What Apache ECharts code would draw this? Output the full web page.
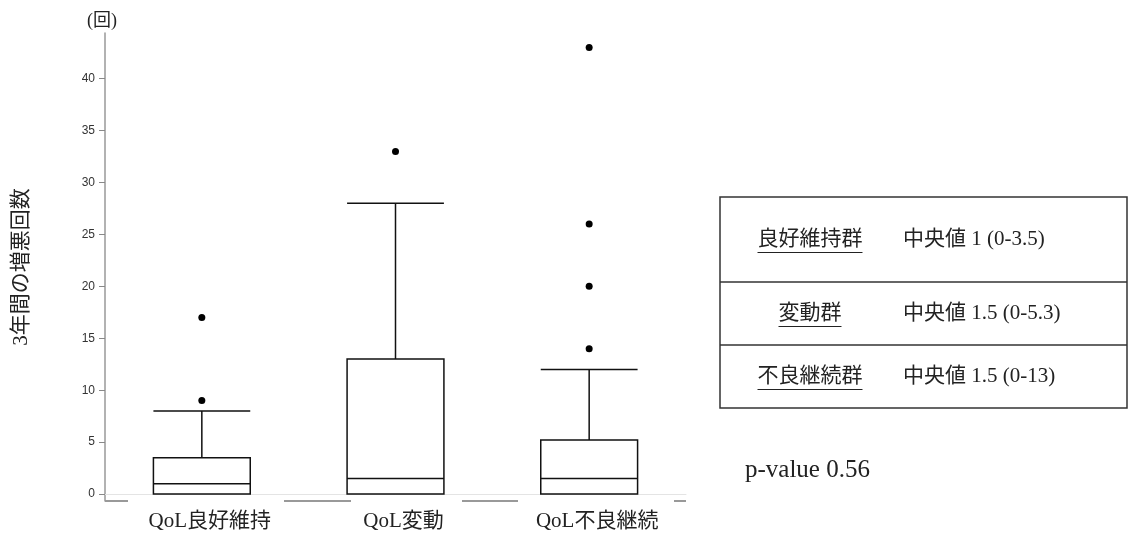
<!DOCTYPE html>
<html>
<head>
<meta charset="utf-8">
<script src="https://cdn.jsdelivr.net/npm/echarts@6/dist/echarts.min.js"></script>
<style>
  html, body { margin: 0; padding: 0; background: #fff; }
  #chart { width: 1128px; height: 534px; }
</style>
</head>
<body>
<div id="chart"></div>
<script>
// Data
var categories = ['QoL良好維持', 'QoL変動', 'QoL不良継続'];
// [min, Q1, median, Q3, upper whisker]
var boxValues = [
    [0, 0, 1, 3.5, 8],
    [0, 0, 1.5, 13, 28],
    [0, 0, 1.5, 5.2, 12]
];
// outliers: [category index, value]
var outliers = [
    [0, 9], [0, 17],
    [1, 33],
    [2, 14], [2, 20], [2, 26], [2, 43]
];
var yTicks = [0, 5, 10, 15, 20, 25, 30, 35, 40];
var tableGroups = ['良好維持群', '変動群', '不良継続群'];
var tableMedians = ['中央値 1 (0-3.5)', '中央値 1.5 (0-5.3)', '中央値 1.5 (0-13)'];
var pValueText = 'p-value 0.56';

var serif = '"Liberation Serif", "Noto Sans CJK JP", serif';
var sans = '"Liberation Sans", Arial, sans-serif';

var chart = echarts.init(document.getElementById('chart'));

// measure text for underline
var measureCtx = document.createElement('canvas').getContext('2d');
function textWidth(str, size) {
    measureCtx.font = size + 'px ' + serif;
    return measureCtx.measureText(str).width;
}

//
// Table (graphic)
//
var tableLeft = 720, tableRight = 1127;
var rowEdges = [197, 282, 345, 408];
var graphics = [];
graphics.push({
    type: 'rect',
    shape: { x: tableLeft, y: rowEdges[0], width: tableRight - tableLeft, height: rowEdges[3] - rowEdges[0] },
    style: { fill: 'none', stroke: '#333', lineWidth: 1.5 }
});
for (var r = 1; r < 3; r++) {
    graphics.push({
        type: 'line',
        shape: { x1: tableLeft, y1: rowEdges[r], x2: tableRight, y2: rowEdges[r] },
        style: { stroke: '#333', lineWidth: 1.5 }
    });
}
var tableFont = 21;
for (var i = 0; i < tableGroups.length; i++) {
    var cy = (rowEdges[i] + rowEdges[i + 1]) / 2;
    var w = textWidth(tableGroups[i], tableFont);
    graphics.push({
        type: 'text',
        x: 810, y: cy,
        style: {
            text: tableGroups[i], font: tableFont + 'px ' + serif, fill: '#222',
            align: 'center', verticalAlign: 'middle'
        }
    });
    graphics.push({
        type: 'line',
        shape: { x1: 810 - w / 2, y1: cy + 13, x2: 810 + w / 2, y2: cy + 13 },
        style: { stroke: '#222', lineWidth: 1 }
    });
    graphics.push({
        type: 'text',
        x: 903, y: cy,
        style: {
            text: tableMedians[i], font: tableFont + 'px ' + serif, fill: '#222',
            align: 'left', verticalAlign: 'middle'
        }
    });
}
graphics.push({
    type: 'text',
    x: 745, y: 470,
    style: { text: pValueText, font: '25px ' + serif, fill: '#222', verticalAlign: 'middle' }
});
graphics.push({
    type: 'text',
    x: 102, y: 21,
    style: { text: '(回)', font: '18px ' + serif, fill: '#222', align: 'center', verticalAlign: 'middle' }
});
// darker pieces of the baseline
var darkSegs = [[105, 128], [284, 351], [462, 518], [674, 686]];
darkSegs.forEach(function (s) {
    graphics.push({
        type: 'line',
        shape: { x1: s[0], y1: 501, x2: s[1], y2: 501 },
        style: { stroke: '#777', lineWidth: 1.5 }
    });
});

chart.setOption({
    animation: false,
    backgroundColor: '#fff',
    textStyle: { fontFamily: serif },
    grid: { left: 105, right: 442, top: 33, bottom: 33 },
    xAxis: {
        type: 'category',
        data: categories,
        boundaryGap: true,
        axisLine: { lineStyle: { color: '#e4e4e4', width: 1 } },
        axisTick: { show: false },
        axisLabel: {
            color: '#222', fontSize: 21, fontFamily: serif, margin: 10,
            padding: [0, 0, 0, 16]
        }
    },
    yAxis: {
        type: 'value',
        min: -0.67,
        max: 44.4,
        name: '3年間の増悪回数',
        nameLocation: 'middle',
        nameRotate: 90,
        nameGap: 73,
        nameTextStyle: { color: '#222', fontSize: 21, fontFamily: serif },
        axisLine: { show: true, lineStyle: { color: '#999', width: 1.5 } },
        axisTick: { show: true, length: 6, customValues: yTicks, lineStyle: { color: '#888' } },
        axisLabel: { customValues: yTicks, color: '#333', fontSize: 12, fontFamily: sans, margin: 10 },
        splitLine: { show: false }
    },
    series: [
        {
            type: 'boxplot',
            data: boxValues,
            boxWidth: ['50%', '50%'],
            itemStyle: { color: '#fff', borderColor: '#111', borderWidth: 1.5 }
        },
        {
            type: 'scatter',
            data: outliers,
            symbol: 'circle',
            symbolSize: 7,
            itemStyle: { color: '#000', opacity: 1 }
        }
    ],
    graphic: graphics
});
</script>
</body>
</html>
